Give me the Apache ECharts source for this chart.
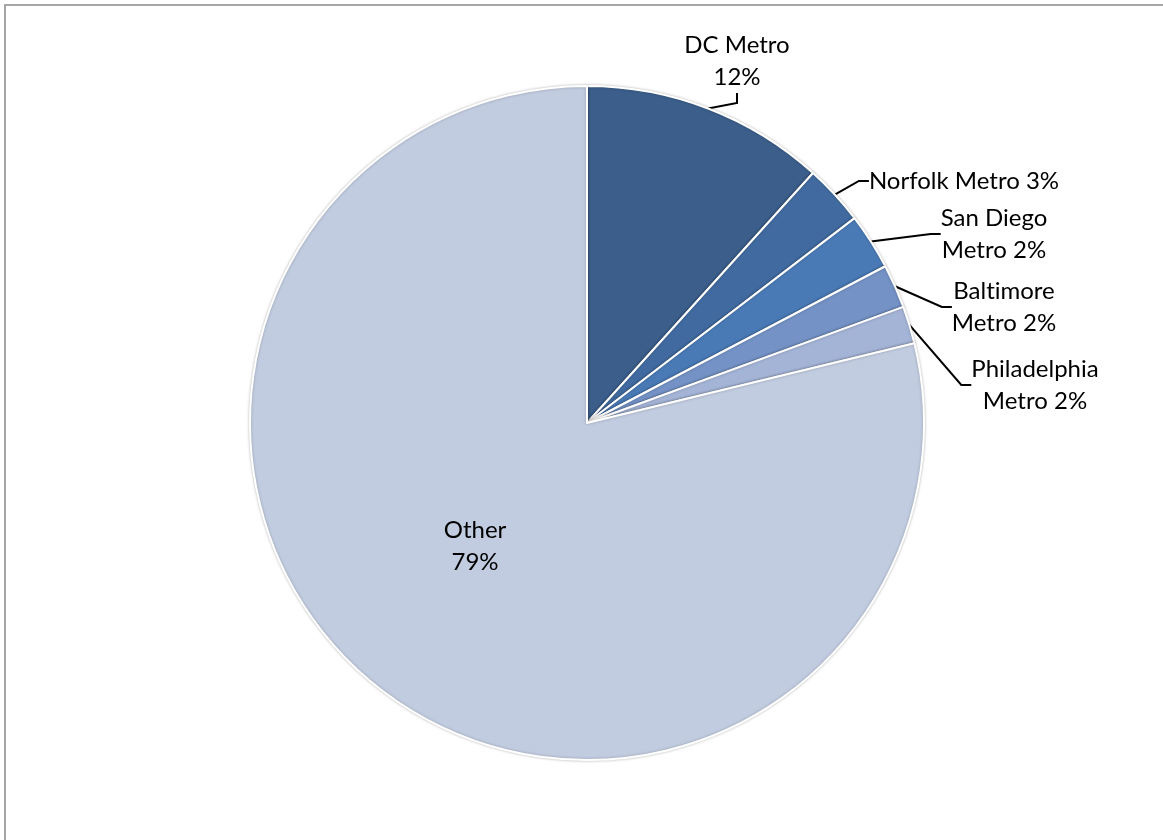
<!DOCTYPE html>
<html lang="en">
<head>
   <meta charset="UTF-8">
   <script type="text/javascript" src="https://cdn.jsdelivr.net/npm/echarts@6/dist/echarts.min.js"></script>
   <title>Metro share</title>
   <style>
      body { margin: 0; background: #fff; }
      #frame { position: absolute; left: 4px; top: 4px; width: 1200px; height: 900px; border: 2px solid #a6a6a6; box-sizing: border-box; }
      #container { position: absolute; left: 0; top: 0; width: 1163px; height: 840px; }
   </style>
</head>
<body>
   <div id="frame"></div>
   <div id="container"></div>
   <script>
      var names = ['DC Metro', 'Norfolk Metro', 'San Diego\nMetro', 'Baltimore\nMetro', 'Philadelphia\nMetro', 'Other'];
      var values = [11.7, 2.9, 2.7, 2.1, 1.8, 78.8];
      var shown = ['12%', '3%', '2%', '2%', '2%', '79%'];
      var colors = ['#3b5e8b', '#416ba0', '#4a7ab6', '#7492c5', '#a4b4d6', '#c2cce0'];

      // where each label sits (text centre)
      var labelSpots = [
         [737, 61],
         [964, 181],
         [994, 234],
         [1004, 307],
         [1035, 385],
         [475, 546]
      ];

      var data = names.map(function (n, i) {
         var d = { name: n, value: values[i], itemStyle: { color: colors[i] } };
         if (i === 5) {
            d.label = { position: 'inside' };
            d.labelLine = { show: false };
         }
         return d;
      });

      var chart = echarts.init(document.getElementById('container'));
      chart.setOption({
         animation: false,
         series: [{
            type: 'pie',
            center: [587, 423],
            radius: 337,
            startAngle: 90,
            clockwise: true,
            data: data,
            itemStyle: { borderColor: '#fff', borderWidth: 2, shadowColor: 'rgba(0,0,0,0.25)', shadowBlur: 3 },
            label: {
               show: true,
               position: 'outside',
               fontFamily: 'Lato',
               fontSize: 24,
               lineHeight: 32,
               color: '#000',
               align: 'center',
               formatter: function (p) {
                  var s = shown[p.dataIndex];
                  // break Lato's "ti" ligature
                  var n = p.name.replace('ti', 't\u200Ci');
                  if (p.dataIndex === 5 || p.dataIndex === 0) return n + '\n' + s;
                  return n + ' ' + s;
               }
            },
            labelLine: { show: true, length: 10, length2: 10, lineStyle: { color: '#000', width: 2 } },
            labelLayout: function (p) {
               var spot = labelSpots[p.dataIndex];
               return { x: spot[0], y: spot[1], align: 'center', verticalAlign: 'middle' };
            },
            emphasis: { disabled: true }
         }]
      });
   </script>
</body>
</html>
